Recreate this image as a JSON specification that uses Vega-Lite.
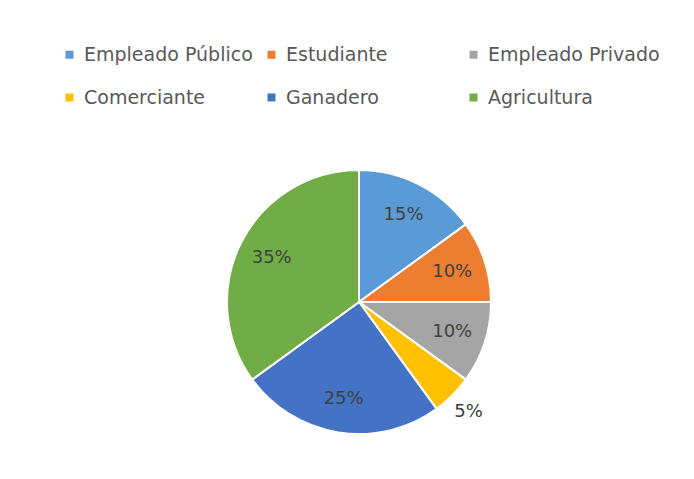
{
  "$schema": "https://vega.github.io/schema/vega-lite/v6.json",
  "width": 670,
  "height": 354,
  "autosize": "none",
  "padding": {"left": 24, "top": 125, "right": 0, "bottom": 0},
  "background": "#ffffff",
  "view": {"stroke": null},
  "data": {
    "values": [
      {"cat": "Empleado Público", "pct": 0.15, "order": 1},
      {"cat": "Estudiante", "pct": 0.10, "order": 2},
      {"cat": "Empleado Privado", "pct": 0.10, "order": 3},
      {"cat": "Comerciante", "pct": 0.05, "order": 4},
      {"cat": "Ganadero", "pct": 0.25, "order": 5},
      {"cat": "Agricultura", "pct": 0.35, "order": 6}
    ]
  },
  "encoding": {
    "theta": {"field": "pct", "type": "quantitative", "stack": true},
    "order": {"field": "order", "type": "quantitative"}
  },
  "layer": [
    {
      "mark": {"type": "arc", "outerRadius": 132, "stroke": "#ffffff", "strokeWidth": 2},
      "encoding": {
        "color": {
          "field": "cat",
          "type": "nominal",
          "scale": {
            "domain": ["Empleado Público", "Estudiante", "Empleado Privado", "Comerciante", "Ganadero", "Agricultura"],
            "range": ["#5B9BD5", "#ED7D31", "#A5A5A5", "#FFC000", "#4472C4", "#70AD47"]
          },
          "legend": {
            "title": null,
            "orient": "none",
            "legendX": 36,
            "legendY": -80,
            "direction": "horizontal",
            "columns": 3,
            "gridAlign": "all",
            "columnPadding": 6,
            "rowPadding": 23,
            "symbolType": "square",
            "symbolSize": 64,
            "symbolStrokeWidth": 0,
            "symbolOffset": 0,
            "labelOffset": 5,
            "labelFont": "DejaVu Sans",
            "labelFontSize": 19,
            "labelColor": "#595959",
            "labelLimit": 300,
            "padding": 0
          }
        }
      }
    },
    {
      "mark": {"type": "text", "radius": 98, "font": "DejaVu Sans", "fontSize": 18, "color": "#404040"},
      "encoding": {
        "text": {"field": "pct", "type": "quantitative", "format": ".0%", "condition": {"test": "datum.cat === 'Comerciante'", "value": ""}}
      }
    },
    {
      "mark": {"type": "text", "radius": 155, "font": "DejaVu Sans", "fontSize": 18, "color": "#404040"},
      "encoding": {
        "text": {"field": "pct", "type": "quantitative", "format": ".0%", "condition": {"test": "datum.cat !== 'Comerciante'", "value": ""}}
      }
    }
  ]
}
